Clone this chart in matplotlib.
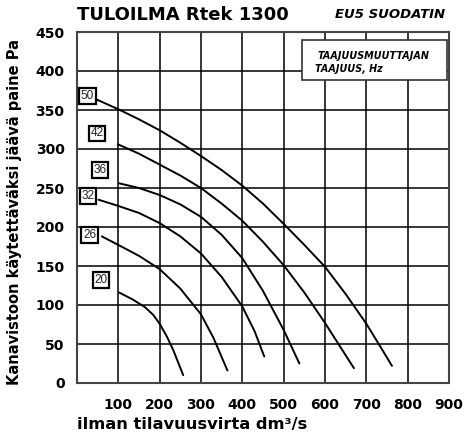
import matplotlib
matplotlib.use('Agg')
import matplotlib.pyplot as plt
from matplotlib.patches import Rectangle

plt.rcParams['font.family'] = ['DejaVu Sans']

# Fan curves, one per inverter frequency (Hz): airflow dm3/s vs pressure Pa
freqs = ['50', '42', '36', '32', '26', '20']
curve_x = {
    '50': [45, 100, 150, 200, 250, 300, 350, 400, 450, 500, 550, 600, 650, 700, 730, 762],
    '42': [99, 150, 200, 250, 300, 350, 400, 450, 500, 550, 600, 635, 670],
    '36': [102, 150, 200, 250, 300, 350, 400, 450, 500, 538],
    '32': [52, 100, 150, 200, 250, 300, 350, 400, 430, 453],
    '26': [60, 100, 150, 200, 250, 300, 330, 364],
    '20': [102, 135, 165, 185, 201, 218, 233, 257],
}
curve_y = {
    '50': [364, 351, 338, 324, 308, 291, 273, 253, 230, 204, 177, 149, 114, 76, 50, 22],
    '42': [306, 294, 280, 266, 250, 230, 208, 181, 151, 116, 77, 48, 19],
    '36': [256, 250, 241, 229, 213, 190, 160, 118, 68, 25],
    '32': [235, 227, 218, 205, 188, 166, 136, 98, 66, 34],
    '26': [188, 177, 163, 146, 121, 88, 58, 16],
    '20': [116, 107, 97, 87, 75, 59, 42, 10],
}
# label box positions (data coords)
label_x = [25, 48, 56, 27, 31, 58]
label_y = [368, 320, 273, 240, 190, 132]

fig = plt.figure(figsize=(4.65, 4.38), dpi=100)
ax = fig.add_axes([77/465, 1-383/438, 372/465, 351/438])
ax.set_xlim(0, 900)
ax.set_ylim(0, 450)

ax.set_xticks(range(100, 1000, 100))
ax.set_yticks(range(0, 500, 50))
ax.tick_params(length=0, labelsize=10, pad=9)
for t in ax.get_xticklabels() + ax.get_yticklabels():
    t.set_fontweight('bold')
ax.tick_params(axis='x', pad=11)
ax.grid(True, color='black', lw=1.1)
ax.set_axisbelow(True)
for s in ax.spines.values():
    s.set_color('#444444')
    s.set_linewidth(1.5)

for f in freqs:
    ax.plot(curve_x[f], curve_y[f], color='black', lw=1.4, zorder=3,
            solid_capstyle='round', solid_joinstyle='round')

for f, lx, ly in zip(freqs, label_x, label_y):
    ax.text(lx, ly, f, ha='center', va='center', fontsize=8.5, color='#222222', zorder=5,
            family='Liberation Sans',
            bbox=dict(boxstyle='square,pad=0.15', fc='white', ec='black', lw=1.6))

# legend box
ax.add_patch(Rectangle((545, 388), 351, 52, fc='white', ec='#333333', lw=1.2, zorder=4))
ax.text(583, 419, 'TAAJUUSMUUTTAJAN', fontsize=6.9, fontweight='bold', style='italic',
        va='center', zorder=5)
ax.text(576, 403, 'TAAJUUS, Hz', fontsize=6.9, fontweight='bold', style='italic',
        va='center', zorder=5)

fig.text(77/465, 1-15/438, 'TULOILMA Rtek 1300', fontsize=13, fontweight='bold',
         va='center', ha='left')
fig.text(445/465, 1-15/438, 'EU5 SUODATIN', fontsize=9.5, fontweight='bold',
         style='italic', va='center', ha='right')
fig.text(77/465, 1-424/438, 'ilman tilavuusvirta dm³/s', fontsize=11.7,
         fontweight='bold', va='center', ha='left')
fig.text(15/465, 1-212/438, 'Kanavistoon käytettäväksi jäävä paine Pa', fontsize=10.5,
         fontweight='bold', va='center', ha='center', rotation=90)

fig.savefig('out.png', dpi=100)
